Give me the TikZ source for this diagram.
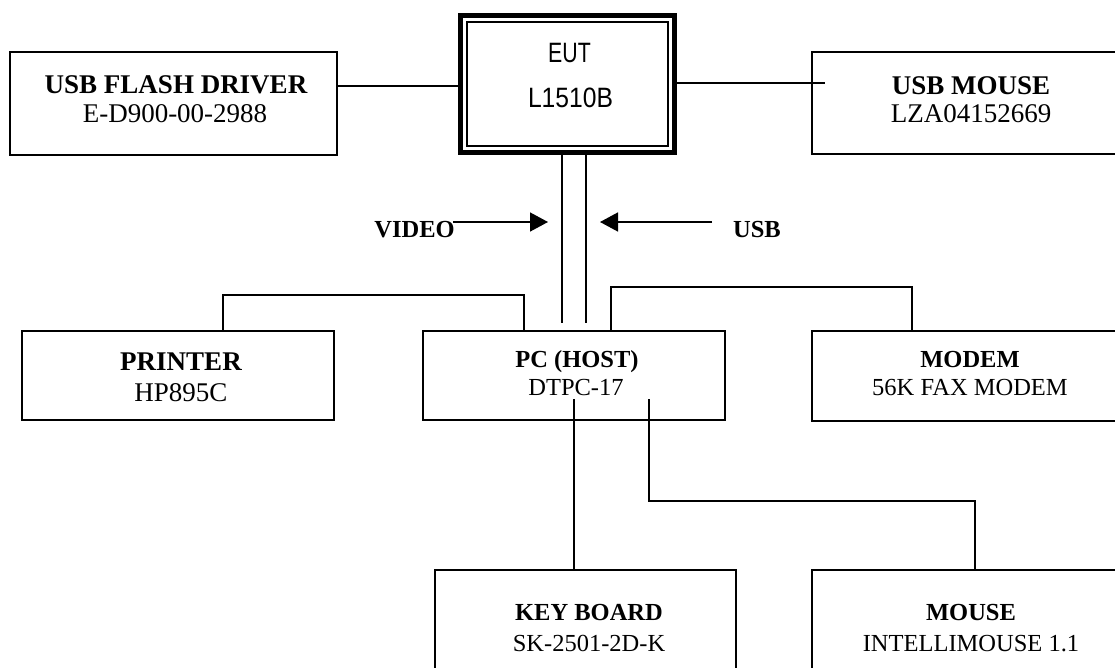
\documentclass[tikz,border=0pt]{standalone}
\usepackage{fontspec}
\usepackage{graphicx}
\setmainfont{Liberation Serif}
\newfontfamily\eutfont{Liberation Sans}
\usetikzlibrary{arrows.meta}
\begin{document}
\begin{tikzpicture}[x=1pt,y=-1pt,
  box/.style={draw, line width=1.5pt, rectangle, inner sep=0pt, outer sep=0pt, anchor=north west},
  big/.style={font=\fontsize{27}{32}\selectfont, anchor=base, inner sep=0pt},
  small/.style={font=\fontsize{24.5}{29}\selectfont, anchor=base, inner sep=0pt},
  eutt/.style={font=\eutfont\fontsize{28}{32}\selectfont, anchor=base, inner sep=0pt},
  conn/.style={line width=1.5pt},
  arr/.style={line width=1.5pt, -{Triangle[length=18pt,width=19pt]}}]
\fill[white] (0,0) rectangle (1115,667);
\useasboundingbox (0,0) rectangle (1115,667);
\clip (0,0) rectangle (1115,667);

% boxes
\node[box, minimum width=327pt, minimum height=103pt] (flash) at (10,52) {};
\node[draw, line width=5pt, rectangle, inner sep=0pt, outer sep=0pt, anchor=north west,
      minimum width=214pt, minimum height=137pt] (eut) at (460.5,15.5) {};
\node[draw, line width=1.5pt, rectangle, inner sep=0pt, outer sep=0pt,
      minimum width=201pt, minimum height=124pt] (euti) at (eut.center) {};
\node[box, minimum width=318pt, minimum height=102pt] (usbm) at (812,52) {};
\node[box, minimum width=312pt, minimum height=89pt] (printer) at (22,331) {};
\node[box, minimum width=302pt, minimum height=89pt] (pc) at (423,331) {};
\node[box, minimum width=318pt, minimum height=90pt] (modem) at (812,331) {};
\node[box, minimum width=301pt, minimum height=130pt] (kb) at (435,570) {};
\node[box, minimum width=318pt, minimum height=130pt] (mouse) at (812,570) {};

% texts
\node[big] (t1a) at (176,93) {\bfseries USB FLASH DRIVER};
\node[big] (t1b) at (175,122) {E-D900-00-2988};
\node[eutt] (t2a) at (569.5,62) {\scalebox{0.76}[1]{EUT}};
\node[eutt] (t2b) at (570.5,107) {\scalebox{0.88}[1]{L1510B}};
\node[big] (t3a) at (971,94) {\bfseries USB MOUSE};
\node[big] (t3b) at (971,122) {LZA04152669};
\node[big] (t4a) at (181,370) {\bfseries PRINTER};
\node[big] (t4b) at (181,401) {HP895C};
\node[small] (t5a) at (577,367) {\bfseries PC (HOST)};
\node[small] (t5b) at (576,395) {DTPC-17};
\node[small] (t6a) at (970,367) {\bfseries MODEM};
\node[small] (t6b) at (970,395) {56K FAX MODEM};
\node[small] (t7a) at (589,620) {\bfseries KEY BOARD};
\node[small] (t7b) at (589,651) {SK-2501-2D-K};
\node[small] (t8a) at (971,620) {\bfseries MOUSE};
\node[small] (t8b) at (971,651) {INTELLIMOUSE 1.1};
\node[small] (video) at (414.5,237) {\bfseries VIDEO};
\node[small] (usb) at (757,237) {\bfseries USB};

% coordinates
\coordinate (v1) at (562,323);
\coordinate (v2) at (586,323);
\coordinate (va) at (453,222);
\coordinate (vb) at (548,222);
\coordinate (ua) at (712,222);
\coordinate (ub) at (600,222);
\coordinate (pj1) at (524,295);
\coordinate (pj2) at (223,295);
\coordinate (mj1) at (611,287);
\coordinate (mj2) at (912,287);
\coordinate (kbs) at (574,399);
\coordinate (ms) at (649,399);
\coordinate (mj3) at (649,501);
\coordinate (mj4) at (975,501);
\coordinate (me) at (825,83);

% connectors
\draw[conn] (flash.east |- 0,86) -- (eut.west |- 0,86);
\draw[conn] (eut.east |- me) -- (me);
\draw[conn] (eut.south -| v1) -- (v1);
\draw[conn] (eut.south -| v2) -- (v2);
\draw[arr] (va) -- (vb);
\draw[arr] (ua) -- (ub);
\draw[conn] (pc.north -| pj1) -- (pj1) -- (pj2) -- (printer.north -| pj2);
\draw[conn] (pc.north -| mj1) -- (mj1) -- (mj2) -- (modem.north -| mj2);
\draw[conn] (kbs) -- (kb.north -| kbs);
\draw[conn] (ms) -- (mj3) -- (mj4) -- (mouse.north -| mj4);
\end{tikzpicture}
\end{document}
